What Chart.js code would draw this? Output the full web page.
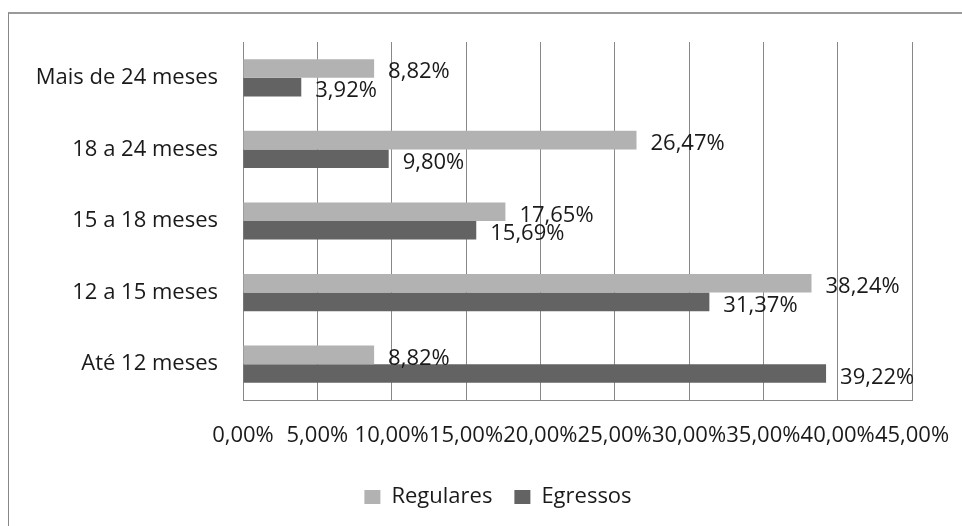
<!DOCTYPE html>
<html lang="pt">
<head>
  <meta charset="UTF-8">
  <title>Tempo de curso</title>
  <style>
    * {
      margin: 0;
      padding: 0;
      box-sizing: border-box;
    }

    body {
      width: 962px;
      height: 526px;
      overflow: hidden;
      background: #fff;
      position: relative;
    }

    /* chart frame: only top and left edges show */
    .frame {
      position: absolute;
      left: 8px;
      top: 12px;
      right: -4px;
      bottom: -4px;
      border-top: 2px solid #9a9a9a;
      border-left: 1px solid #888;
    }

    #wrap {
      position: absolute;
      left: 0;
      top: 0;
      width: 962px;
      height: 526px;
    }
  </style>
  <script src="https://cdn.jsdelivr.net/npm/chart.js@4"></script>
</head>
<body>
  <div class="frame"></div>
  <div id="wrap">
    <canvas id="tempoChart"></canvas>
  </div>

  <script>
    const categorias = ['Mais de 24 meses', '18 a 24 meses', '15 a 18 meses', '12 a 15 meses', 'Até 12 meses'];
    const regulares = [8.82, 26.47, 17.65, 38.24, 8.82];
    const egressos = [3.92, 9.80, 15.69, 31.37, 39.22];
    const xTicks = [0, 5, 10, 15, 20, 25, 30, 35, 40, 45];

    const FONT = "'Open Sans', sans-serif";

    function pct(v) {
      return v.toFixed(2).replace('.', ',') + '%';
    }

    // value labels to the right of each bar
    const barLabels = {
      id: 'barLabels',
      afterUpdate(chart) {
        // push the legend to the right, under the middle of the plot
        const lg = chart.legend;
        if (lg) {
          lg.left += 42;
          lg.right += 42;
        }
      },
      afterDatasetsDraw(chart) {
        const ctx = chart.ctx;
        ctx.save();
        ctx.font = '22px ' + FONT;
        ctx.fillStyle = '#1a1a1a';
        ctx.textAlign = 'left';
        ctx.textBaseline = 'alphabetic';
        chart.data.datasets.forEach((ds, i) => {
          chart.getDatasetMeta(i).data.forEach((bar, j) => {
            ctx.fillText(pct(ds.data[j]), bar.x + 14, bar.y + 10);
          });
        });
        ctx.restore();
      }
    };

    const ctx = document.getElementById('tempoChart').getContext('2d');
    new Chart(ctx, {
      type: 'bar',
      data: {
        labels: categorias,
        datasets: [
          {
            label: 'Regulares',
            data: regulares,
            backgroundColor: '#b2b2b2',
            categoryPercentage: 0.52,
            barPercentage: 1
          },
          {
            label: 'Egressos',
            data: egressos,
            backgroundColor: '#636363',
            categoryPercentage: 0.52,
            barPercentage: 1
          }
        ]
      },
      options: {
        indexAxis: 'y',
        responsive: true,
        maintainAspectRatio: false,
        animation: false,
        layout: {
          padding: { top: 42, right: 50, bottom: 8, left: 0 }
        },
        plugins: {
          tooltip: { enabled: false },
          legend: {
            position: 'bottom',
            labels: {
              boxWidth: 16,
              boxHeight: 14,
              padding: 22,
              color: '#1a1a1a',
              font: { family: FONT, size: 22 }
            }
          }
        },
        scales: {
          x: {
            min: 0,
            max: 45,
            afterBuildTicks(scale) {
              scale.ticks = xTicks.map(v => ({ value: v }));
            },
            afterFit(scale) {
              scale.height = 64;
              scale.paddingLeft = 0;
              scale.paddingRight = 0;
            },
            grid: {
              color: '#888',
              lineWidth: 1,
              drawTicks: false
            },
            border: { display: true, color: '#888', width: 1 },
            ticks: {
              padding: 23,
              color: '#1a1a1a',
              font: { family: FONT, size: 22 },
              maxRotation: 0,
              autoSkip: false,
              callback: v => pct(v)
            }
          },
          y: {
            afterFit(scale) {
              scale.width = 243;
            },
            grid: { display: false, drawTicks: false },
            border: { display: true, color: '#888', width: 1 },
            ticks: {
              padding: 25,
              color: '#1a1a1a',
              font: { family: FONT, size: 22 }
            }
          }
        }
      },
      plugins: [barLabels]
    });
  </script>
</body>
</html>
